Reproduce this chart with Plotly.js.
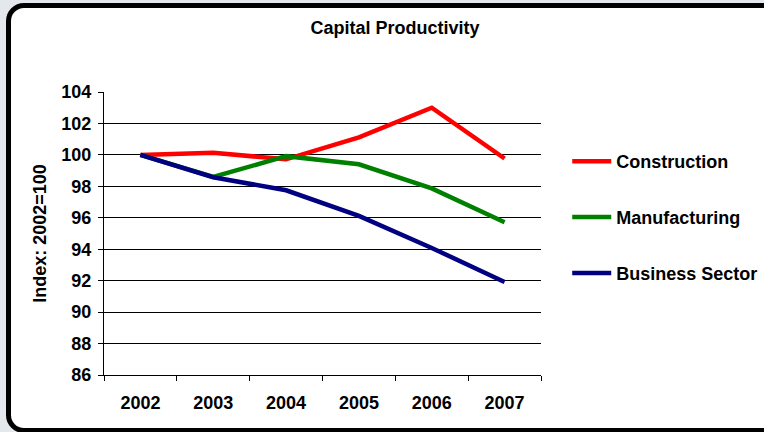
<!DOCTYPE html>
<html>
<head>
<meta charset="utf-8">
<script src="https://cdn.plot.ly/plotly-3.0.1.min.js"></script>
<style>
  html, body { margin:0; padding:0; width:764px; height:432px; overflow:hidden; background:#e4e8ec; }
  #frame { position:absolute; left:6px; top:3px; width:800px; height:430px; box-sizing:border-box;
           border:5px solid #000; border-radius:18px; background:#fff; }
  #chart { position:absolute; left:0; top:0; width:764px; height:432px; }
</style>
</head>
<body>
<div id="frame"></div>
<div id="chart"></div>
<script>
const years = ['2002', '2003', '2004', '2005', '2006', '2007'];
const construction = [100, 100.13, 99.72, 101.12, 103.0, 99.77];
const manufacturing = [100, 98.6, 99.92, 99.4, 97.87, 95.72];
const businessSector = [100, 98.58, 97.75, 96.12, 94.08, 91.92];
const yTicks = [86, 88, 90, 92, 94, 96, 98, 100, 102, 104];

const font = { family: 'Liberation Sans, Arial, sans-serif', size: 18, color: '#000', weight: 'bold' };

const traces = [
  { name: 'Construction', x: years, y: construction, color: '#ff0000' },
  { name: 'Manufacturing', x: years, y: manufacturing, color: '#008000' },
  { name: 'Business Sector', x: years, y: businessSector, color: '#000080' }
].map((t, i) => ({
  type: 'scatter', mode: 'lines', name: t.name, x: t.x, y: t.y,
  line: { color: t.color, width: 4.5 }, legendgroup: 'g' + i
}));

const layout = {
  width: 764, height: 432,
  margin: { l: 104, r: 223, t: 92, b: 57, autoexpand: false },
  paper_bgcolor: 'rgba(0,0,0,0)', plot_bgcolor: '#fff',
  font: font,
  title: { text: 'Capital Productivity', font: font, x: 0.517, xanchor: 'center', y: 0.935, yanchor: 'middle' },
  showlegend: true,
  legend: { x: 1.06, xanchor: 'left', y: 0.82, yanchor: 'top', font: font, itemwidth: 39,
            traceorder: 'grouped', tracegroupgap: 29.5, bgcolor: 'rgba(0,0,0,0)' },
  xaxis: {
    type: 'category', range: [-0.5, 5.5], tickson: 'boundaries',
    ticks: 'outside', ticklen: 5, tickcolor: '#000', tickwidth: 1,
    showline: true, linecolor: '#000', linewidth: 1, showgrid: false, zeroline: false,
    tickfont: font, ticklabelstandoff: 11
  },
  yaxis: {
    range: [86, 104], tickvals: yTicks, ticktext: yTicks.map(String),
    ticks: 'outside', ticklen: 5, tickcolor: '#000', tickwidth: 1,
    showline: true, linecolor: '#000', linewidth: 1,
    showgrid: true, gridcolor: '#000', gridwidth: 1, zeroline: false,
    tickfont: font, ticklabelstandoff: 3,
    title: { text: 'Index: 2002=100', font: font, standoff: 10 }
  }
};

Plotly.newPlot('chart', traces, layout, { displayModeBar: false, staticPlot: true });
</script>
</body>
</html>
